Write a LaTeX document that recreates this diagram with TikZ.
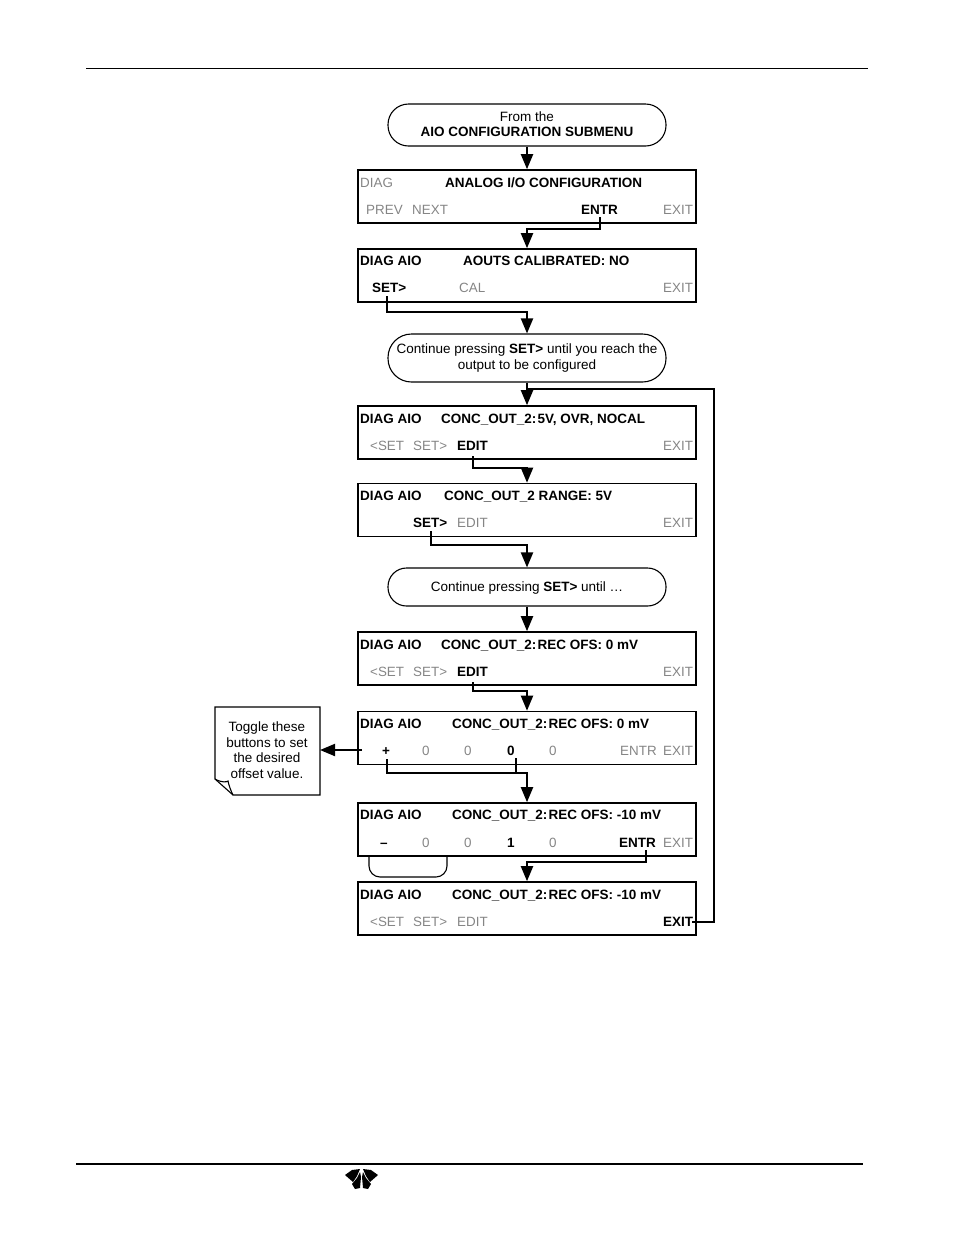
\documentclass[tikz,border=0pt]{standalone}
\usepackage{fontspec}
\setmainfont{Liberation Sans}
\usetikzlibrary{arrows.meta,calc}
\definecolor{dimtext}{gray}{0.52}
\tikzset{
  screen/.style={draw=black,line width=1.6pt,minimum width=338pt,minimum height=53pt,inner sep=0pt},
  pill/.style={draw=black,line width=1.1pt,minimum width=278pt,inner sep=0pt},
  on/.style={anchor=base west,inner sep=0pt,font=\fontsize{13.5}{15}\selectfont\bfseries,text=black},
  off/.style={anchor=base west,inner sep=0pt,font=\fontsize{13.4}{15}\selectfont,text=dimtext},
  msg/.style={anchor=base,inner sep=0pt,font=\fontsize{13.5}{15}\selectfont,text=black},
  msgb/.style={msg,font=\fontsize{13.5}{15}\selectfont\bfseries},
  flow/.style={draw=black,line width=2pt,-{Triangle[length=15pt,width=12pt]}},
  wire/.style={draw=black,line width=2pt},
}
\newcommand{\bset}{\textbf{SET>}}
\newcommand{\conc}{CONC\_OUT\_2:\kern-2.6pt\ }
\begin{document}
\begin{tikzpicture}[x=1pt,y=-1pt]
\useasboundingbox (0,0) rectangle (954,1235);
\draw[black,line width=1pt] (86,68) coordinate (ta) -- (868,68) coordinate (tb);
\draw[black,line width=2pt] (76,1164) coordinate (ba) -- (863,1164) coordinate (bb);
% logo
\fill[black] (345,1175) -- (352,1170) -- (360,1169) -- (357,1176) -- (353,1182) -- cycle;
\fill[black] (360,1172) -- (361,1177) -- (360,1188) -- (355,1189) -- (352,1184) -- (357,1178) -- cycle;
\fill[black] (363,1172) -- (362,1177) -- (363,1188) -- (368,1189) -- (371,1184) -- (366,1178) -- cycle;
\fill[black] (378,1175) -- (371,1170) -- (363,1169) -- (366,1176) -- (370,1182) -- cycle;

% pills
\node[pill,minimum height=42pt,rounded corners=20.5pt] (p1) at (527,125) {};
\node[pill,minimum height=48pt,rounded corners=23.5pt] (p2) at (527,358) {};
\node[pill,minimum height=38pt,rounded corners=18.5pt] (p3) at (527,587) {};
% screens
\node[screen] (s1) at (527,196.5) {};
\node[screen] (s2) at (527,275.5) {};
\node[screen] (s3) at (527,432.5) {};
\node[screen] (s4) at (527,510) {};
\node[screen] (s5) at (527,658.5) {};
\node[screen] (s6) at (527,738) {};
\node[screen] (s7) at (527,829.5) {};
\node[screen] (s8) at (527,908.5) {};
% note
\draw[black,line width=1.1pt,fill=white] (215,707) coordinate (na) -- (320,707) -- (320,795) -- (233,795) -- (215,779) -- cycle;
\draw[black,line width=1.1pt] (215,779) .. controls (222,783) and (227,782) .. (228,781) .. controls (229,786) and (231,791) .. (233,795);
\coordinate (nr) at (320,750);
\node[msg] (n1) at (267,731) {Toggle these};
\node[msg] (n2) at (267,747) {buttons to set};
\node[msg] (n3) at (267,762) {the desired};
\node[msg] (n4) at (267,778) {offset value.};
% pill text
\node[msg] (a1) at (527,121) {From the};
\node[msgb] (a2) at (527,136) {AIO CONFIGURATION SUBMENU};
\node[msg] (a3) at (527,353) {Continue pressing \bset{} until you reach the};
\node[msg] (a4) at (527,369) {output to be configured};
\node[msg] (a5) at (527,591) {Continue pressing \bset{} until \dots};
% screen 1
\node[off] (d1) at (360,187) {DIAG};
\node[on] (h1) at (445,187) {ANALOG I/O CONFIGURATION};
\node[off] (k1a) at (366,214) {PREV};
\node[off] (k1b) at (412,214) {NEXT};
\node[on] (k1c) at (581,214) {ENTR};
\node[off] (k1d) at (663,214) {EXIT};
% screen 2
\node[on] (d2) at (360,265) {DIAG AIO};
\node[on] (h2) at (463,265) {AOUTS CALIBRATED: NO};
\node[on] (k2a) at (372,292) {SET>};
\node[off] (k2b) at (459,292) {CAL};
\node[off] (k2d) at (663,292) {EXIT};
% screen 3
\node[on] (d3) at (360,423) {DIAG AIO};
\node[on] (h3) at (441,423) {\conc 5V, OVR, NOCAL};
\node[off] (k3a) at (370,450) {<SET};
\node[off] (k3b) at (413,450) {SET>};
\node[on] (k3c) at (457,450) {EDIT};
\node[off] (k3d) at (663,450) {EXIT};
% screen 4
\node[on] (d4) at (360,500) {DIAG AIO};
\node[on] (h4) at (444,500) {CONC\_OUT\_2 RANGE: 5V};
\node[on] (k4b) at (413,527) {SET>};
\node[off] (k4c) at (457,527) {EDIT};
\node[off] (k4d) at (663,527) {EXIT};
% screen 5
\node[on] (d5) at (360,649) {DIAG AIO};
\node[on] (h5) at (441,649) {\conc REC OFS: 0 mV};
\node[off] (k5a) at (370,676) {<SET};
\node[off] (k5b) at (413,676) {SET>};
\node[on] (k5c) at (457,676) {EDIT};
\node[off] (k5d) at (663,676) {EXIT};
% screen 6
\node[on] (d6) at (360,728) {DIAG AIO};
\node[on] (h6) at (452,728) {\conc REC OFS: 0 mV};
\node[on] (k6a) at (382,755) {+};
\node[off] (k6b) at (422,755) {0};
\node[off] (k6c) at (464,755) {0};
\node[on] (k6e) at (507,755) {0};
\node[off] (k6f) at (549,755) {0};
\node[off] (k6g) at (620,755) {ENTR};
\node[off] (k6d) at (663,755) {EXIT};
% screen 7
\node[on] (d7) at (360,819) {DIAG AIO};
\node[on] (h7) at (452,819) {\conc REC OFS: -10 mV};
\node[on] (k7a) at (380,847) {–};
\node[off] (k7b) at (422,847) {0};
\node[off] (k7c) at (464,847) {0};
\node[on] (k7e) at (507,847) {1};
\node[off] (k7f) at (549,847) {0};
\node[on] (k7g) at (619,847) {ENTR};
\node[off] (k7d) at (663,847) {EXIT};
% screen 8
\node[on] (d8) at (360,899) {DIAG AIO};
\node[on] (h8) at (452,899) {\conc REC OFS: -10 mV};
\node[off] (k8a) at (370,926) {<SET};
\node[off] (k8b) at (413,926) {SET>};
\node[off] (k8c) at (457,926) {EDIT};
\node[on] (k8d) at (663,926) {EXIT};
% connector anchors
\coordinate (c1) at (600,217);
\coordinate (c2) at (387,296);
\coordinate (c3) at (473,456);
\coordinate (c4) at (431,531);
\coordinate (c5) at (473,682);
\coordinate (c6) at (387,759);
\coordinate (c7) at (516,758);
\coordinate (c7j) at (516,773);
\coordinate (c8) at (646,850);
\coordinate (c9) at (692,922);
\coordinate (c9j) at (527,389);
\coordinate (c10) at (362,750);
\coordinate (br1) at (369,856);
\coordinate (br2) at (447,856);
% connectors
\draw[flow] (p1.south) -- (s1.north);
\draw[flow] (c1) -- (600,229) -- (527,229) -- (s2.north);
\draw[flow] (c2) -- (387,312) -- (527,312) -- (p2.north);
\draw[flow] (p2.south) -- (s3.north);
\draw[wire] (c9) -- (714,922) -- (714,389) -- (c9j);
\draw[flow] (c3) -- (473,468) -- (527,468) -- (s4.north);
\draw[flow] (c4) -- (431,545) -- (527,545) -- (p3.north);
\draw[flow] (p3.south) -- (s5.north);
\draw[flow] (c5) -- (473,691) -- (527,691) -- (s6.north);
\draw[flow] (c6) -- (387,773) -- (527,773) -- (s7.north);
\draw[wire] (c7) -- (c7j);
\draw[flow] (c10) -- (nr);
\draw[flow] (c8) -- (646,862) -- (527,862) -- (s8.north);
\draw[black,line width=1.1pt,rounded corners=11pt] (br1) -- (369,877) -- (447,877) -- (br2);
\end{tikzpicture}
\end{document}
